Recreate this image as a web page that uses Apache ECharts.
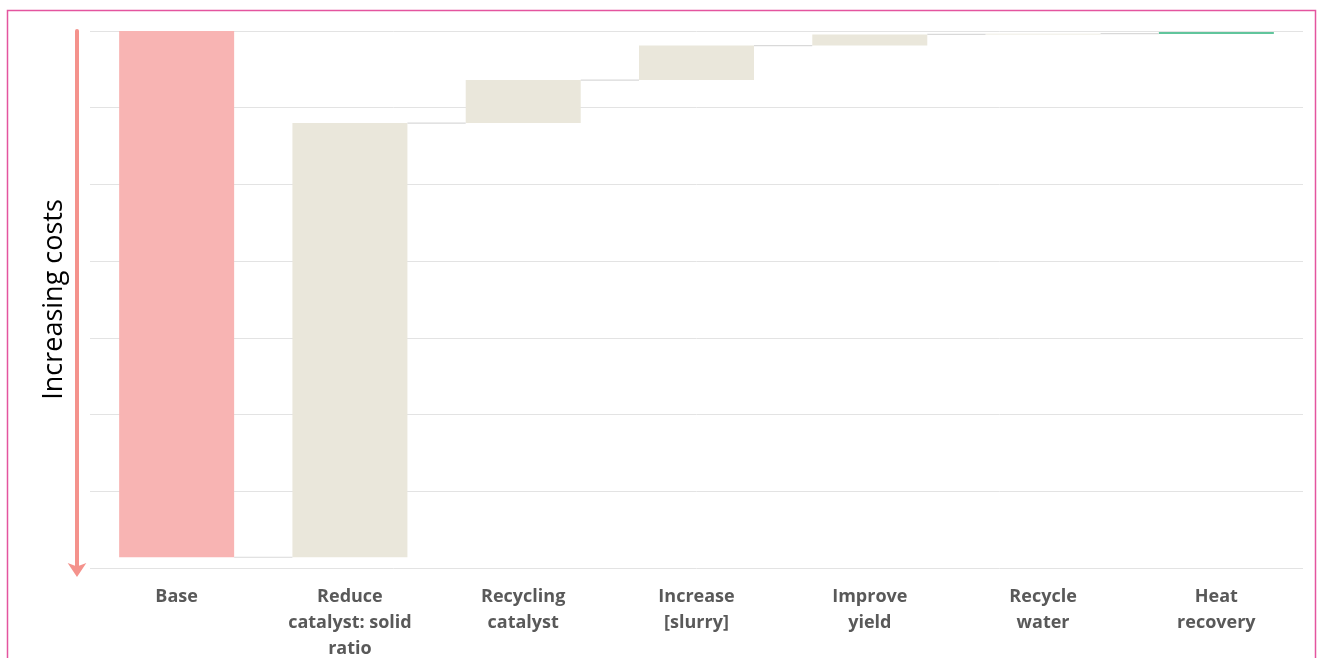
<!DOCTYPE html>
<html>
<head>
<meta charset="utf-8">
<script src="https://cdn.jsdelivr.net/npm/echarts@6/dist/echarts.min.js"></script>
<style>
  html, body { margin: 0; padding: 0; background: #fff; }
  #main { width: 1318px; height: 658px; }
</style>
</head>
<body>
<div id="main"></div>
<script>
// categories and cost changes (units = one gridline step, 0 at top)
var categories = ['Base', 'Reduce\ncatalyst: solid\nratio', 'Recycling\ncatalyst', 'Increase\n[slurry]', 'Improve\nyield', 'Recycle\nwater', 'Heat\nrecovery'];
var deltas = [6.86, -5.66, -0.56, -0.45, -0.145, -0.01, -0.02];
var barColors = ['#F8B4B3', '#EAE7DB', '#EAE7DB', '#EAE7DB', '#EAE7DB', '#EAE7DB', '#2DB27B'];

// build waterfall helper/visible pieces
var levels = [];
var helper = [];
var visible = [];
var cur = 0;
for (var i = 0; i < deltas.length; i++) {
    var next = cur + deltas[i];
    helper.push(Math.min(cur, next));
    visible.push({ value: Math.abs(deltas[i]), itemStyle: { color: barColors[i] } });
    cur = next;
    levels.push(cur);
}
var connectors = [];
for (var j = 0; j < levels.length - 1; j++) {
    connectors.push([j, levels[j]]);
}

var BAR_W = 115;
var chart = echarts.init(document.getElementById('main'));
var option = {
    animation: false,
    graphic: [{
        type: 'rect',
        shape: { x: 7.5, y: 10.5, width: 1308, height: 700 },
        style: { fill: 'none', stroke: '#E4559F', lineWidth: 1.5 },
        silent: true
    }],
    grid: { left: 90, right: 15, top: 31, bottom: 90, outerBoundsMode: 'none', containLabel: false },
    xAxis: {
        type: 'category',
        data: categories,
        axisLine: { show: false },
        axisTick: { show: false },
        axisLabel: {
            interval: 0,
            margin: 16,
            color: '#595959',
            fontFamily: 'Open Sans',
            fontWeight: 'bold',
            fontSize: 18,
            lineHeight: 26
        }
    },
    yAxis: {
        type: 'value',
        inverse: true,
        min: 0,
        max: 7,
        interval: 1,
        offset: 13,
        name: 'Increasing costs',
        nameLocation: 'middle',
        nameGap: 9,
        nameTextStyle: { fontFamily: 'Open Sans', fontSize: 27, color: '#000' },
        axisLabel: { show: false },
        axisTick: { show: false },
        axisLine: {
            show: true,
            symbol: ['arrow', 'none'],
            symbolSize: [14, 14],
            symbolOffset: [-9, 0],
            lineStyle: { color: '#F4928C', width: 4 }
        },
        splitLine: { lineStyle: { color: '#E3E3E3', width: 1 } }
    },
    series: [
        {
            type: 'bar',
            stack: 'wf',
            barWidth: BAR_W,
            itemStyle: { color: 'transparent' },
            emphasis: { disabled: true },
            data: helper
        },
        {
            type: 'bar',
            stack: 'wf',
            barWidth: BAR_W,
            data: visible
        },
        {
            type: 'custom',
            silent: true,
            renderItem: function (params, api) {
                var a = api.coord([api.value(0), api.value(1)]);
                var b = api.coord([api.value(0) + 1, api.value(1)]);
                return {
                    type: 'line',
                    shape: { x1: a[0] + BAR_W / 2, y1: a[1], x2: b[0] - BAR_W / 2, y2: b[1] },
                    style: { stroke: '#D9D9D9', lineWidth: 1.2 }
                };
            },
            data: connectors,
            z: 3
        }
    ]
};
chart.setOption(option);
</script>
</body>
</html>
